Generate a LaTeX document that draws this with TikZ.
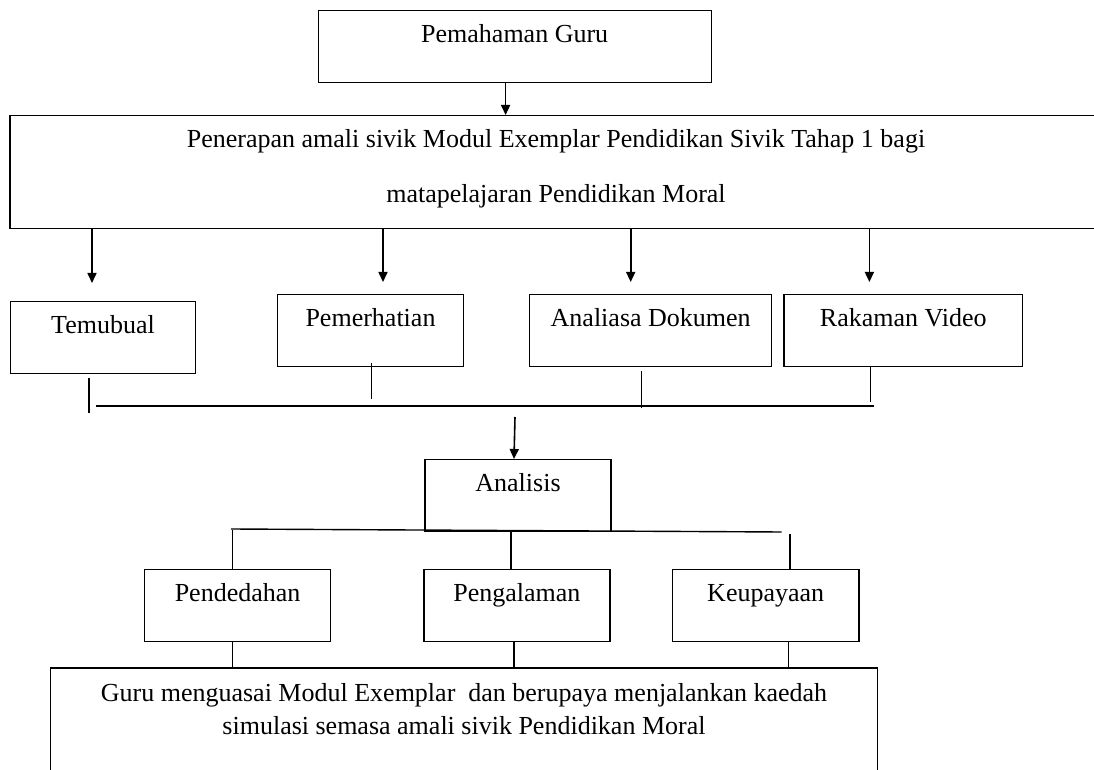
\documentclass[tikz,border=0pt]{standalone}
\usepackage{fontspec}
\setmainfont{Liberation Serif}
\usepackage{tikz}
\usetikzlibrary{arrows.meta, positioning, calc}

\tikzset{
  kotak/.style={draw, line width=0.6pt, inner sep=0pt, anchor=north,
    text height=16pt, text depth=20pt, font=\fontsize{13}{16.5}\selectfont},
  panah/.style={line width=0.8pt, -{Triangle[length=5pt,width=4.5pt]}},
  garis/.style={line width=0.7pt}
}

\begin{document}
\begin{tikzpicture}[x=0.5pt, y=-0.5pt]
  \useasboundingbox (0,0) rectangle (1094,770);

  % Pemahaman dan penerapan
  \node[kotak, minimum width=196.5pt] (guru) at (514.7,10) {Pemahaman Guru};
  \node[kotak, minimum width=546pt, text height=43.5pt, text depth=13pt, align=center] (penerapan) at (556,115)
    {Penerapan amali sivik Modul Exemplar Pendidikan Sivik Tahap 1 bagi\\[11pt]
     matapelajaran Pendidikan Moral};
  \draw[panah] (505.6,0 |- guru.south) -- (505.6,0 |- penerapan.north);

  % Kaedah pengumpulan data
  \foreach \nama/\cx/\ty/\lebar/\teks/\ax/\jarak in {
    temubual/103/301/92.5/Temubual/92/9pt,
    pemerhatian/370.5/294/93/Pemerhatian/383/6pt,
    dokumen/650.7/294/121/Analiasa Dokumen/630.7/6pt,
    video/903.3/294/119.3/Rakaman Video/869.4/6pt}
  {
    \node[kotak, minimum width=\lebar pt] (\nama) at (\cx,\ty) {\teks};
    \draw[panah, shorten >=\jarak] (\ax,0 |- penerapan.south) -- (\ax,0 |- \nama.north);
  }

  % Garis gabungan
  \foreach \nama/\sx/\dy/\panjang in {
    temubual/89/4/35, pemerhatian/371.6/-4/36, dokumen/641.2/4/37, video/870.4/-1/36}
    \draw[garis] (\sx,0 |- \nama.south) ++(0,\dy) -- ++(0,\panjang);
  \coordinate (busKiri) at (96.3,406);
  \coordinate (busKanan) at (873.6,406);
  \coordinate (busPanah) at (515,417);
  \draw[garis] (busKiri) -- (busKanan);

  % Analisis
  \node[kotak, minimum width=93pt] (analisis) at (518,459) {Analisis};
  \draw[panah] (busPanah) -- (514,0 |- analisis.north);

  \coordinate (cabangKiri) at (231,529);
  \coordinate (cabangKanan) at (781.5,532);
  \draw[garis] (cabangKiri) -- (cabangKanan);

  \foreach \nama/\cx/\lebar/\teks in {
    pendedahan/237.6/93.2/Pendedahan,
    pengalaman/516.9/93/Pengalaman,
    keupayaan/765.7/93.2/Keupayaan}
    \node[kotak, minimum width=\lebar pt] (\nama) at (\cx,569) {\teks};

  \draw[garis] (232.4,530) -- (232.4,0 |- pendedahan.north);
  \draw[garis] (510.8,531) -- (510.8,0 |- pengalaman.north);
  \draw[garis] (789.8,534) -- (789.8,0 |- keupayaan.north);

  % Kesimpulan (kotak terbuka di bawah)
  \node[kotak, draw=none, minimum width=412.7pt, text height=33pt, text depth=30pt, align=center] (kesimpulan) at (464,668)
    {Guru menguasai Modul Exemplar~ dan berupaya menjalankan kaedah\\
     simulasi semasa amali sivik Pendidikan Moral};
  \draw[line width=0.6pt] (kesimpulan.north west |- 0,770) -- (kesimpulan.north west)
    -- (kesimpulan.north east) -- (kesimpulan.north east |- 0,770);

  \draw[garis] (232.4,0 |- pendedahan.south) -- (232.4,0 |- kesimpulan.north);
  \draw[garis] (514,0 |- pengalaman.south) -- (514,0 |- kesimpulan.north);
  \draw[garis] (788.7,0 |- keupayaan.south) -- (788.7,0 |- kesimpulan.north);
\end{tikzpicture}
\end{document}
